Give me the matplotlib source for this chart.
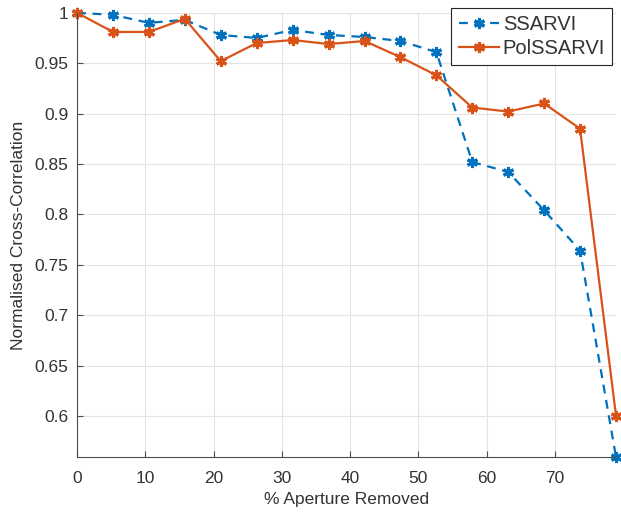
import numpy as np
import matplotlib
matplotlib.use("Agg")
import matplotlib.pyplot as plt

plt.rcParams["font.family"] = ["Liberation Sans", "DejaVu Sans"]

# % aperture removed (19 steps of 100/19)
aperture = [0.0, 5.26, 10.53, 15.79, 21.05, 26.32, 31.58, 36.84,
            42.11, 47.37, 52.63, 57.89, 63.16, 68.42, 73.68, 78.95]
ssarvi = [1.000, 0.998, 0.990, 0.993, 0.978, 0.975, 0.983, 0.978,
          0.976, 0.972, 0.961, 0.852, 0.842, 0.804, 0.764, 0.559]
polssarvi = [1.000, 0.981, 0.981, 0.994, 0.952, 0.970, 0.973, 0.969,
             0.972, 0.956, 0.938, 0.906, 0.902, 0.910, 0.885, 0.600]

blue = "#0072BD"
orange = "#D95319"
txt = "#333333"
asterisk = (6, 2, 0)

fig = plt.figure(figsize=(6.21, 5.12), dpi=100)
ax = fig.add_axes([0.124, 0.107, 0.868, 0.868])

ax.plot(aperture, ssarvi, "--", marker=asterisk, color=blue, lw=1.6, ms=8,
        mew=2.2, dashes=(4, 3), label="SSARVI", clip_on=False)
ax.plot(aperture, polssarvi, "-", marker=asterisk, color=orange, lw=1.6, ms=8,
        mew=2.2, label="PolSSARVI", clip_on=False)

ax.set_xlim(0, 78.95)
ax.set_ylim(0.559, 1.0)
ax.set_xticks(np.arange(0, 71, 10))
ax.set_yticks(np.arange(0.6, 1.001, 0.05))
ax.set_yticklabels(["0.6", "0.65", "0.7", "0.75", "0.8", "0.85", "0.9", "0.95", "1"])
ax.grid(True, color="#e3e3e3", lw=0.8)
ax.set_axisbelow(True)
for s in ("top", "right"):
    ax.spines[s].set_visible(False)
for s in ("left", "bottom"):
    ax.spines[s].set_color("#4d4d4d")
ax.tick_params(direction="in", length=4, colors="#4d4d4d", labelcolor=txt,
               labelsize=12.5, pad=6)
ax.tick_params(axis="x", pad=10)
ax.set_xlabel("% Aperture Removed", fontsize=12.5, color=txt, labelpad=4)
ax.set_ylabel("Normalised Cross-Correlation", fontsize=12.5, color=txt,
              labelpad=6)

leg = ax.legend(loc="upper right", bbox_to_anchor=(0.993, 1.011),
                borderaxespad=0, fontsize=14.5, fancybox=False, framealpha=1,
                edgecolor="#262626", handlelength=2.0, borderpad=0.35,
                labelspacing=0.25, handletextpad=0.2)
leg.get_frame().set_linewidth(0.8)
for t in leg.get_texts():
    t.set_color(txt)

fig.savefig("out.png", dpi=100)
